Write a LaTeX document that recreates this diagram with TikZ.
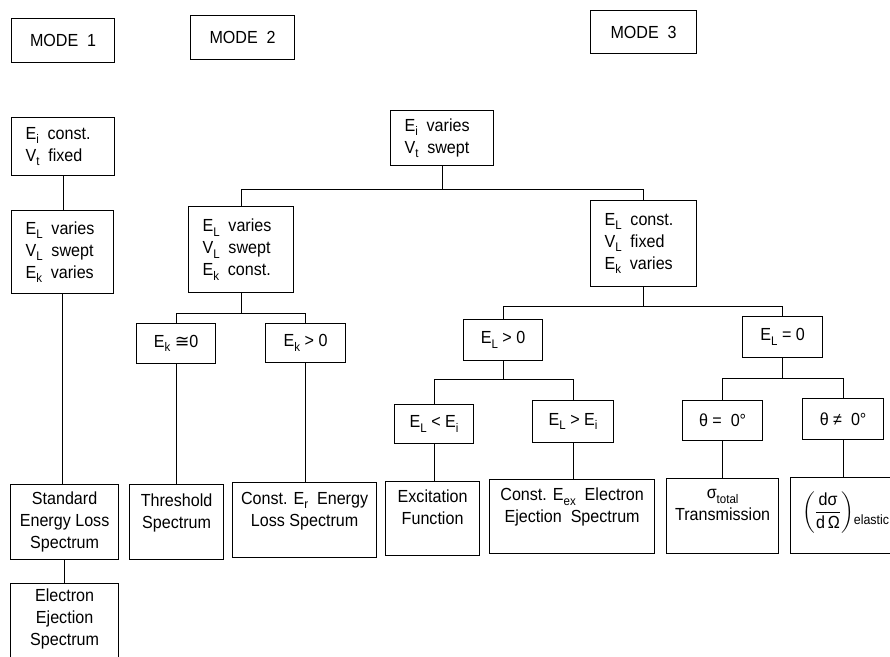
\documentclass[tikz,border=0pt]{standalone}
\usepackage{amsmath}
\usepackage{fontspec}
\setmainfont{Liberation Sans}[FakeStretch=0.92]
\newfontfamily\symfont{DejaVu Sans}

\newcommand{\lo}[1]{\raisebox{-4.5pt}{\fontsize{12.5}{14}\selectfont #1}}

\begin{document}
\begin{tikzpicture}[x=1pt,y=-1pt,
  font=\fontsize{17.5}{22}\selectfont,
  line width=1.2pt,
  box/.style={draw, anchor=north west, inner sep=0pt},
  cond/.style={box, align=left, inner xsep=14pt},
  result/.style={box, align=center}]
  \useasboundingbox (0,0) rectangle (890,656);
  \clip (0,0) rectangle (890,656);

  % mode headers
  \node[result, minimum width=103, minimum height=44] (mode1) at (11,18)  {MODE\ \ 1};
  \node[result, minimum width=104, minimum height=44] (mode2) at (190,15) {MODE\ \ 2};
  \node[result, minimum width=106, minimum height=43] (mode3) at (590,10) {MODE\ \ 3};

  % mode 1
  \node[cond, text width=75, minimum height=58] (ifix) at (11,117)
    {E\lo{i}\enspace const.\\V\lo{t}\enspace fixed};
  \node[cond, text width=74, minimum height=83] (lvary1) at (11,210)
    {E\lo{L}\enspace varies\\V\lo{L}\enspace swept\\E\lo{k}\enspace varies};
  \node[result, minimum width=108, minimum height=75] (std) at (10,484)
    {Standard\\Energy Loss\\Spectrum};
  \node[result, minimum width=108, minimum height=90] (eject) at (10,583)
    {Electron\\Ejection\\Spectrum\\~};

  % modes 2 and 3
  \node[cond, text width=75, minimum height=55] (ivary) at (390,110)
    {E\lo{i}\enspace varies\\V\lo{t}\enspace swept};
  \node[cond, text width=77, minimum height=86] (lvary) at (188,206)
    {E\lo{L}\enspace varies\\V\lo{L}\enspace swept\\E\lo{k}\enspace const.};
  \node[cond, text width=78, minimum height=86] (lconst) at (590,200)
    {E\lo{L}\enspace const.\\V\lo{L}\enspace fixed\\E\lo{k}\enspace varies};

  \node[result, minimum width=79, minimum height=40] (kzero) at (136,323) {E\lo{k} {\symfont ≅}0};
  \node[result, minimum width=80, minimum height=39] (kpos)  at (265,323) {E\lo{k} > 0};
  \node[result, minimum width=79, minimum height=41] (lpos)  at (463,319) {E\lo{L} > 0};
  \node[result, minimum width=80, minimum height=41] (lzero) at (742,316) {E\lo{L} = 0};
  \node[result, minimum width=79, minimum height=39] (lless) at (394,404) {E\lo{L} < E\lo{i}};
  \node[result, minimum width=81, minimum height=42] (lmore) at (532,400) {E\lo{L} > E\lo{i}};
  \node[result, minimum width=80, minimum height=40] (tzero) at (682,400) {θ = \ 0°};
  \node[result, minimum width=81, minimum height=41] (tnon)  at (802,398) {θ ≠ \ 0°};

  \node[result, minimum width=94, minimum height=75]  (thr) at (129,484) {Threshold\\Spectrum\\~};
  \node[result, minimum width=144, minimum height=75] (cer) at (232,482)
    {Const. E\lo{r}\ \ Energy\\Loss Spectrum\\~};
  \node[result, minimum width=94, minimum height=74]  (exc) at (385,481) {Excitation\\Function\\~};
  \node[result, minimum width=165, minimum height=74] (cex) at (489,479)
    {Const. E\lo{ex}\ \ Electron\\Ejection\ \ Spectrum\\~};
  \node[result, minimum width=112, minimum height=75] (sig) at (666,478)
    {σ\lo{total}\\Transmission\\~};
  \node[result, minimum width=110, minimum height=76] (dsig) at (790,477)
    {$\left(\dfrac{\text{dσ}}{\text{d\,Ω}}\right)$\raisebox{-7pt}{\fontsize{13.5}{15}\selectfont elastic}\\~};

  % branches
  \draw (ivary.south) -- ++(0,23) coordinate (j1) -| (lvary.north) (j1) -| (lconst.north);
  \draw (lvary.south) -- ++(0,20) coordinate (j2) -| (kzero.north) (j2) -| (kpos.north);
  \draw (lconst.south) -- ++(0,19) coordinate (j3) -| (lpos.north) (j3) -| (lzero.north);
  \draw (lpos.south) -- ++(0,18) coordinate (j4) -| (lless.north) (j4) -| (lmore.north);
  \draw (lzero.south) -- ++(0,20) coordinate (j5) -| (tzero.north) (j5) -| (tnon.north);

  \foreach \a/\b in {ifix/lvary1, lvary1/std, std/eject, kzero/thr, kpos/cer,
                     lless/exc, lmore/cex, tzero/sig, tnon/dsig}
    \draw (\a.south) -- (\a.south |- \b.north);
\end{tikzpicture}
\end{document}
